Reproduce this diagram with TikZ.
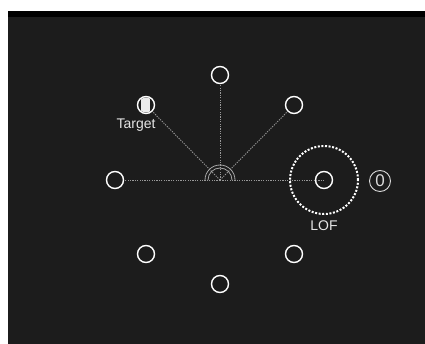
\documentclass[tikz,border=0pt]{standalone}
\usepackage{fontspec}
\setmainfont{Liberation Sans}
\begin{document}
\begin{tikzpicture}[x=1pt,y=-1pt,
  dot/.style={circle,draw=white,line width=1.4pt,minimum size=17pt,inner sep=0pt},
  ray/.style={draw=gray!80,line width=0.9pt,dash pattern=on 1.2pt off 1.2pt},
  lbl/.style={text=white!90!black,font=\fontsize{14}{14}\selectfont,inner sep=0pt}]
\useasboundingbox (0,0) rectangle (425,344);
\fill[white] (0,0) rectangle (425,344);
\fill[black!89] (8,11) rectangle (425,344);
\fill[black] (8,11) rectangle (425,17);
\coordinate (c) at (220,180);
\node[dot] (n) at (220,75) {};
\node[dot] (ne) at (294,105) {};
\node[dot] (t) at (146,105) {};
\node[dot] (w) at (115,180) {};
\node[dot] (e) at (324,180) {};
\node[dot] (sw) at (146,254) {};
\node[dot] (se) at (294,254) {};
\node[dot] (s) at (220,284) {};
\begin{scope}
\clip (t.center) circle (7.5);
\fill[white!92!black] ([xshift=-5pt,yshift=-9pt]t.center) rectangle ([xshift=4pt,yshift=9pt]t.center);
\end{scope}
\draw[ray] (c) -- (n);
\draw[ray] (c) -- (ne);
\draw[ray] (c) -- (t);
\draw[ray] (c) -- (w);
\draw[ray] (c) -- (e.center);
\draw[gray!70,line width=0.8pt] (205,180) arc[start angle=180,end angle=360,radius=15];
\draw[gray!70,line width=0.8pt] (208,180) arc[start angle=180,end angle=360,radius=12];
\node[circle,draw=white,line width=2pt,dash pattern=on 2pt off 1.6pt,minimum size=68pt,inner sep=0pt] (lof) at (e.center) {};
\node[lbl] (tl) at (136,125) {Target};
\node[lbl] (ll) at (324,226) {LOF};
\node[circle,draw=white!85!black,line width=0.9pt,minimum size=21pt,inner sep=0pt,text=white!85!black,font=\fontsize{17}{17}\selectfont] (z) at (380,181) {0};
\end{tikzpicture}
\end{document}
